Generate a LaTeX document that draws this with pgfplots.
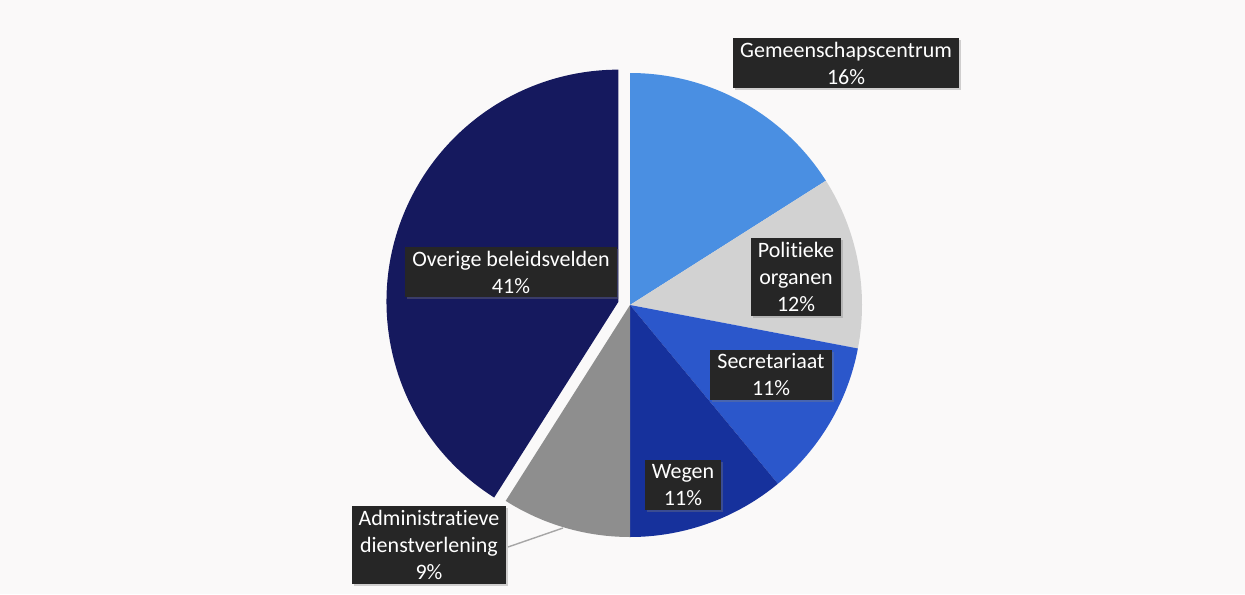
\documentclass[border=0pt]{standalone}
\usepackage{pgfplots}
\pgfplotsset{compat=1.18}
\usepackage{pgfplotstable}
\usepackage{fontspec}
\setmainfont[Ligatures=NoCommon]{Carlito}
\usetikzlibrary{shadows}

\definecolor{c0}{HTML}{4A8FE2}
\definecolor{c1}{HTML}{D2D2D2}
\definecolor{c2}{HTML}{2B57CB}
\definecolor{c3}{HTML}{16319C}
\definecolor{c4}{HTML}{8E8E8E}
\definecolor{c5}{HTML}{15195E}
\definecolor{boxbg}{HTML}{262626}
\definecolor{bg}{HTML}{FAF9F9}

% share (%) and explode distance (px) per slice, clockwise from 12 o'clock
\pgfplotstableread{
name value explode
Gemeenschapscentrum 16 0
Politieke 12 0
Secretariaat 11 0
Wegen 11 0
Administratieve 9 0
Overige 41 12
}\piedata

\tikzset{lbl/.style={fill=boxbg, text=white, align=center, inner xsep=3.5pt, inner ysep=2pt,
  font=\fontsize{11}{13.5}\selectfont,
  drop shadow={shadow xshift=1pt, shadow yshift=-1pt, opacity=0.35}}}

\begin{document}
\begin{tikzpicture}
\begin{axis}[
    x=0.5pt, y=-0.5pt,
    xmin=0, xmax=1245, ymin=0, ymax=594,
    hide axis, clip=false,
]
\fill[bg] (axis cs:0,0) rectangle (axis cs:1245,594);

\xdef\cum{0}
\pgfplotsinvokeforeach{0,...,5}{
  \pgfplotstablegetelem{#1}{value}\of\piedata
  \let\v\pgfplotsretval
  \pgfplotstablegetelem{#1}{explode}\of\piedata
  \let\ex\pgfplotsretval
  \pgfmathsetmacro\as{90-3.6*\cum}
  \pgfmathsetmacro\ae{90-3.6*(\cum+\v)}
  \pgfmathsetmacro\am{(\as+\ae)/2}
  \pgfmathsetmacro\off{0.5*\ex}
  \pgfmathsetmacro\newcum{\cum+\v}
  \xdef\cum{\newcum}
  \edef\temp{\noexpand\fill[c#1] ([shift={(\am:\off pt)}]axis cs:630,305) -- ++(\as:116pt)
    arc[start angle=\as, end angle=\ae, radius=116pt] -- cycle;}
  \temp
}

\draw[gray!70, line width=0.7pt] (axis cs:508,547) -- (axis cs:563,528);

\node[lbl] at (axis cs:846,63) {Gemeenschapscentrum\\16\%};
\node[lbl] at (axis cs:796,277) {Politieke\\organen\\12\%};
\node[lbl] at (axis cs:771,375) {Secretariaat\\11\%};
\node[lbl] at (axis cs:683,485) {Wegen\\11\%};
\node[lbl] at (axis cs:429,545) {Administratieve\\dienstverlening\\9\%};
\node[lbl] at (axis cs:511,272) {Overige beleidsvelden\\41\%};
\end{axis}
\end{tikzpicture}
\end{document}
